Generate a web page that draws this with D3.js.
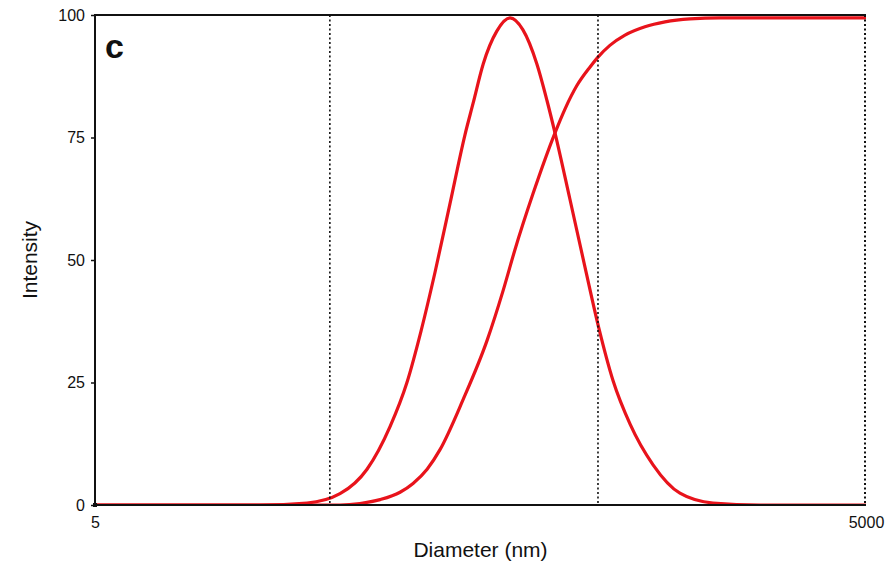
<!DOCTYPE html>
<html>
<head>
<meta charset="utf-8">
<script src="https://cdn.jsdelivr.net/npm/d3@7"></script>
<style>
  body { margin: 0; background: #fff; }
  text { font-family: "Liberation Sans", Arial, sans-serif; fill: #111; }
</style>
</head>
<body>
<div id="chartDiv"></div>
<script>
// size distribution (intensity vs diameter, nm)
var distDiameter = [5, 21.9, 33.4, 44.9, 57.2, 70.3, 81.8, 92.8, 105.2, 120.3, 137.5, 148, 162, 183, 206, 231, 262, 287, 308, 352, 403, 457, 519, 604, 742, 944, 1270, 1935, 5000];
var distIntensity = [0, 0, 0.4, 2.3, 7.3, 16, 25, 35.5, 47.5, 61.5, 75.5, 82, 90, 96.7, 99.4, 97, 90, 82.5, 76, 62.5, 48.6, 36, 25.3, 16.5, 8.2, 2.4, 0.4, 0, 0];

// cumulative curve
var cumDiameter = [5, 44.9, 53.7, 64.3, 76.9, 86.4, 98, 110, 135, 168, 194, 215, 253, 308, 337, 375, 422, 453, 504, 577, 690, 826, 1033, 1352, 5000];
var cumIntensity = [0, 0, 0.3, 1.1, 2.6, 4.4, 7.3, 11.3, 21.4, 33.7, 43.9, 52, 63.5, 75.9, 80.8, 85.6, 89.4, 91.4, 93.8, 95.9, 97.6, 98.6, 99.2, 99.4, 99.4];

// dotted marker lines
var cutoffs = [41, 453, 5000];

var xTicks = [5, 5000];
var yTicks = [0, 25, 50, 75, 100];

var width = 896, height = 569;
var margin = {top: 15, right: 30, bottom: 64, left: 95};
var innerW = width - margin.left - margin.right;
var innerH = height - margin.top - margin.bottom;
var red = '#e8131b';

var svg = d3.select('#chartDiv')
  .append('svg')
  .attr('width', width)
  .attr('height', height);

var g = svg.append('g')
  .attr('transform', 'translate(' + margin.left + ',' + margin.top + ')');

var x = d3.scaleLog().domain([5, 5000]).range([0, innerW]);
var y = d3.scaleLinear().domain([0, 100]).range([innerH, 0]);

svg.append('clipPath').attr('id', 'plotClip')
  .append('rect').attr('width', innerW).attr('height', innerH);

var line = d3.line()
  .x(function (d) { return x(d[0]); })
  .y(function (d) { return y(d[1]); })
  .curve(d3.curveMonotoneX);

var curves = g.append('g').attr('clip-path', 'url(#plotClip)');
curves.append('path')
  .datum(d3.zip(distDiameter, distIntensity))
  .attr('d', line)
  .attr('fill', 'none')
  .attr('stroke', red)
  .attr('stroke-width', 3.2);
curves.append('path')
  .datum(d3.zip(cumDiameter, cumIntensity))
  .attr('d', line)
  .attr('fill', 'none')
  .attr('stroke', red)
  .attr('stroke-width', 3.2);

// dotted verticals
g.selectAll('.cut')
  .data(cutoffs)
  .enter()
  .append('line')
  .attr('class', 'cut')
  .attr('x1', function (d) { return x(d) - (d === 5000 ? 1 : 0); })
  .attr('x2', function (d) { return x(d) - (d === 5000 ? 1 : 0); })
  .attr('y1', 0)
  .attr('y2', innerH)
  .attr('stroke', '#111')
  .attr('stroke-width', function (d) { return d === 5000 ? 2 : 1.6; })
  .attr('stroke-dasharray', '2,2.5');

// axes
var yAxis = d3.axisLeft(y).tickValues(yTicks).tickSize(4).tickPadding(6);
var yG = g.append('g').call(yAxis);
yG.select('.domain').remove();
yG.selectAll('line').attr('stroke', '#111').attr('stroke-width', 1.5);
yG.selectAll('text').style('font-size', '16px').attr('fill', '#111');

var xAxis = d3.axisBottom(x).tickValues(xTicks).tickFormat(d3.format('d')).tickSize(0).tickPadding(12);
var xG = g.append('g').attr('transform', 'translate(0,' + innerH + ')').call(xAxis);
xG.select('.domain').remove();
xG.selectAll('text').style('font-size', '16px').attr('fill', '#111');

// frame: left, bottom, top solid
g.append('path')
  .attr('d', 'M' + innerW + ',0H0V' + innerH + 'H' + innerW)
  .attr('fill', 'none')
  .attr('stroke', '#111')
  .attr('stroke-width', 2);
g.append('rect')
  .attr('x', -2).attr('y', innerH - 2)
  .attr('width', 4).attr('height', 4)
  .attr('fill', '#111');

// titles
svg.append('text')
  .attr('x', margin.left + innerW / 2)
  .attr('y', 557)
  .attr('text-anchor', 'middle')
  .style('font-size', '21px')
  .text('Diameter (nm)');

svg.append('text')
  .attr('transform', 'translate(37,' + (margin.top + innerH / 2) + ') rotate(-90)')
  .attr('text-anchor', 'middle')
  .style('font-size', '21px')
  .text('Intensity');

svg.append('text')
  .attr('x', 105)
  .attr('y', 58)
  .style('font-size', '34px')
  .style('font-weight', 'bold')
  .text('c');
</script>
</body>
</html>
